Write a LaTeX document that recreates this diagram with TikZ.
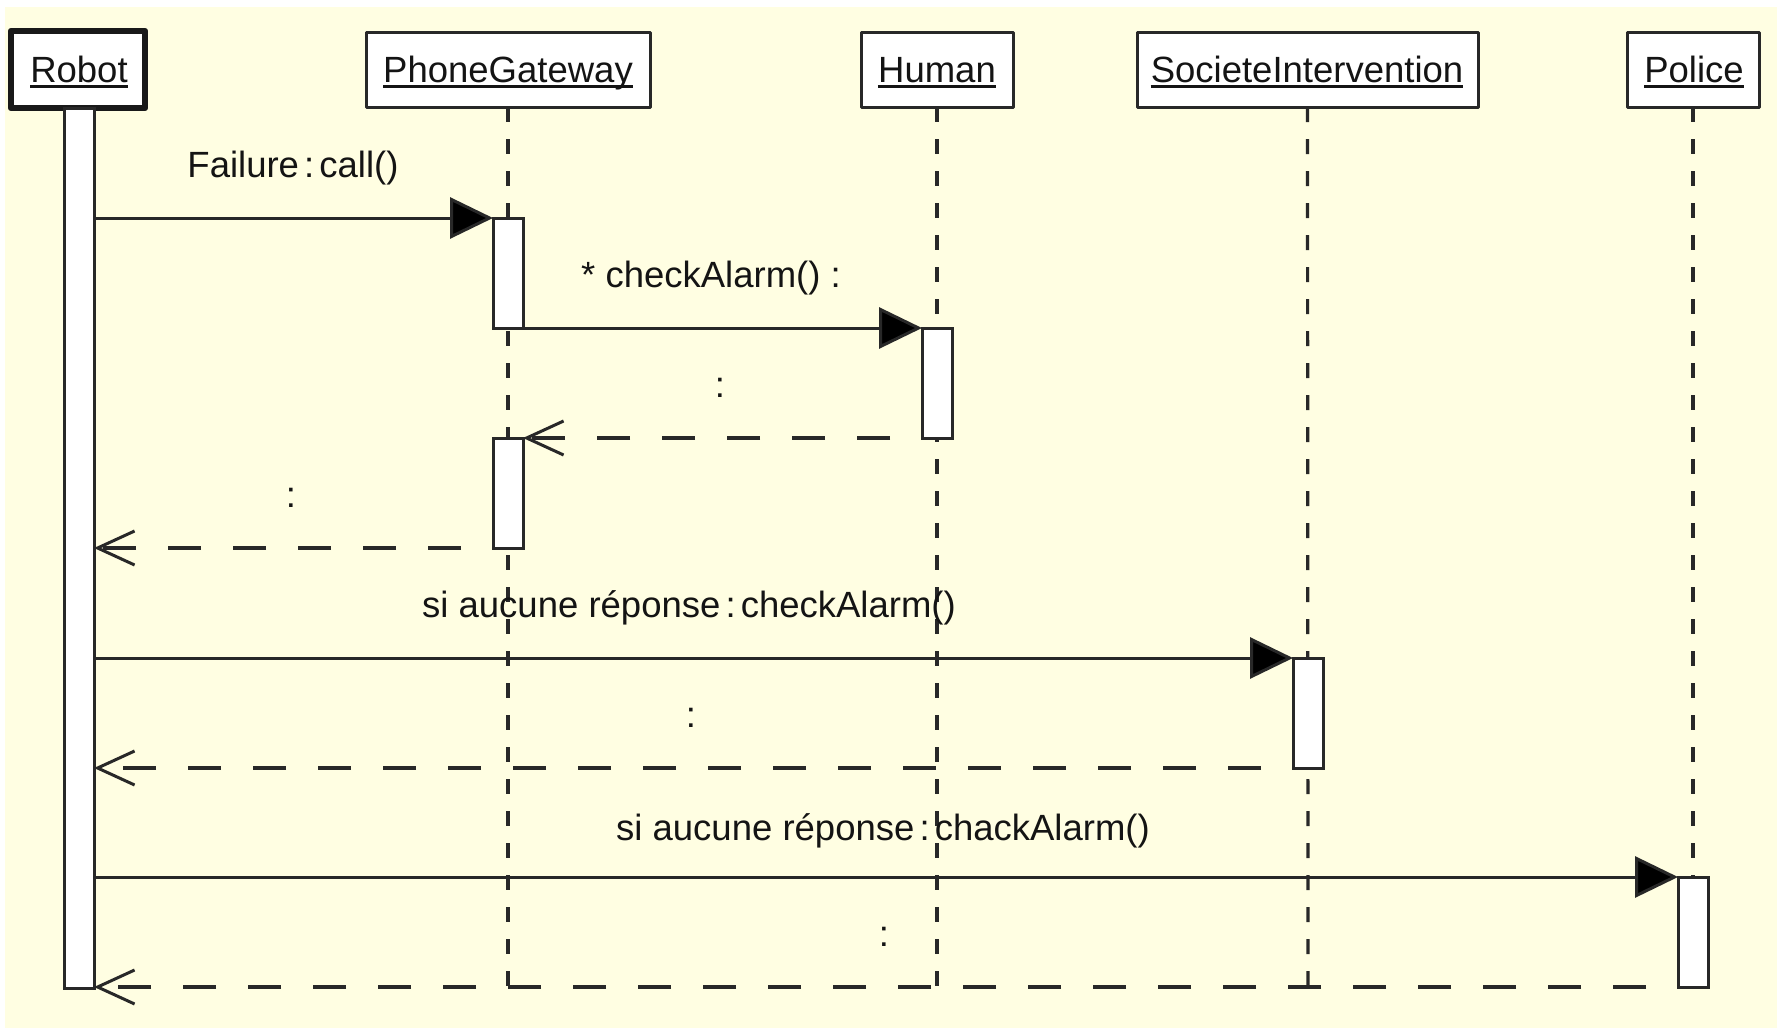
\documentclass[tikz,border=0pt]{standalone}
\usepackage{fontspec}
\setmainfont{Liberation Sans}
\usetikzlibrary{arrows.meta,calc}
\definecolor{bg}{RGB}{255,254,226}
\definecolor{ink}{RGB}{40,40,40}
\definecolor{txt}{RGB}{20,20,20}
\newcommand{\cln}{\hspace{0.14em}:\hspace{0.14em}}
\begin{document}
\begin{tikzpicture}[x=1pt,y=-1pt,
  every node/.style={font=\fontsize{36.5}{42}\selectfont, text=txt},
  objbox/.style={draw=ink, fill=white, line width=3pt, inner sep=0pt, outer sep=0pt, line join=round},
  mainbox/.style={draw=black!90, fill=white, line width=6.5pt, inner sep=0pt, outer sep=0pt, line join=round},
  lifeline/.style={draw=ink, line width=3.2pt, dash pattern=on 15pt off 17pt},
  actbar/.style={draw=ink, fill=white, line width=3pt, minimum width=30pt, minimum height=110pt, inner sep=0pt, outer sep=0pt, anchor=north},
  callmsg/.style={draw=ink, line width=3pt, -{Triangle[length=43pt,width=41pt,fill=black]}},
  retmsg/.style={draw=ink, line width=3.2pt, dash pattern=on 33pt off 32pt, dash phase=33pt, -{Straight Barb[length=37pt,width=34pt,line width=3pt]}},
  title/.style={anchor=base, inner sep=0pt},
  lbl/.style={anchor=base, inner sep=0pt}]
\useasboundingbox (0,0) rectangle (1777,1028);
\fill[white] (0,0) rectangle (1777,1028);
\fill[bg] (5,7) rectangle (1777,1028);

% object boxes
\node[mainbox, minimum width=134pt, minimum height=77pt] (robot) at (78,69.5) {};
\node[objbox, minimum width=284pt, minimum height=75pt] (pg) at (508,69.5) {};
\node[objbox, minimum width=152pt, minimum height=75pt] (hu) at (937,69.5) {};
\node[objbox, minimum width=341pt, minimum height=75pt] (si) at (1307.5,69.5) {};
\node[objbox, minimum width=132pt, minimum height=75pt] (po) at (1693,69.5) {};

% titles
\node[title] (trobot) at (79,82) {Robot};
\node[title] (tpg) at (508,82) {PhoneGateway};
\node[title] (thu) at (937,82) {Human};
\node[title] (tsi) at (1307,82) {SocieteIntervention};
\node[title] (tpo) at (1694,82) {Police};
\foreach \t in {trobot,tpg,thu,tsi,tpo}
  \draw[txt, line width=2.2pt] ($(\t.base west)+(0,4.5)$) -- ($(\t.base east)+(0,4.5)$);

% lifelines
\coordinate (pgend) at (508,988);
\coordinate (huend) at (937,988);
\coordinate (siend) at (1308,988);
\coordinate (poend) at (1693,988);
\draw[lifeline] (pg.south) -- (pgend);
\draw[lifeline] (hu.south) -- (huend);
\draw[lifeline] (si.south) -- (siend);
\draw[lifeline] (po.south) -- (poend);

% activation bars
\node[actbar, minimum height=880pt] (rb) at (79,108) {};
\node[actbar] (pg1) at (508,218) {};
\node[actbar] (hu1) at (937,328) {};
\node[actbar] (pg2) at (508,438) {};
\node[actbar] (si1) at (1308,658) {};
\node[actbar] (po1) at (1693,877) {};

% messages
\draw[callmsg] (rb.east |- pg1.north west) -- (pg1.north west);
\draw[callmsg] (pg1.south east) -- (hu1.north west);
\draw[retmsg] (hu1.south west) -- (pg2.north east);
\draw[retmsg] (pg2.south west) -- (rb.east |- pg2.south west);
\draw[callmsg] (rb.east |- si1.north west) -- (si1.north west);
\draw[retmsg] (si1.south west) -- (rb.east |- si1.south west);
\draw[callmsg] (rb.east |- po1.north west) -- (po1.north west);
\draw[retmsg] (po1.south west) -- (rb.east |- po1.south west);

% labels
\node[lbl] (l1) at (293,177) {Failure\cln call()};
\node[lbl] (l2) at (711,287) {* checkAlarm() :};
\node[lbl] (l3) at (720,397) {:};
\node[lbl] (l4) at (291,507) {:};
\node[lbl] (l5) at (689,617) {si aucune réponse\cln checkAlarm()};
\node[lbl] (l6) at (691,727) {:};
\node[lbl] (l7) at (883,840) {si aucune réponse\cln chackAlarm()};
\node[lbl] (l8) at (884,946) {:};
\end{tikzpicture}
\end{document}
